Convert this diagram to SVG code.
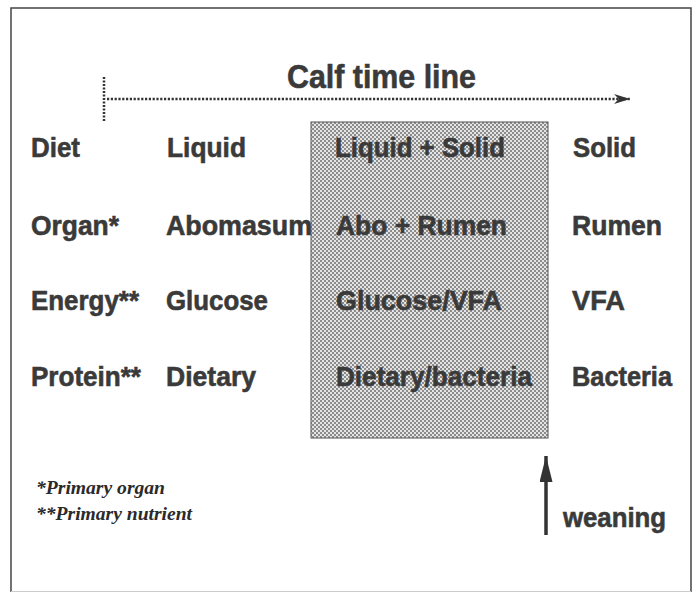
<svg xmlns="http://www.w3.org/2000/svg" width="696" height="593" viewBox="0 0 696 593">
<style>
.t{font-family:"Liberation Sans",Arial,sans-serif;font-weight:bold;font-size:28px;fill:#3a3a3a;stroke:#3a3a3a;stroke-width:0.6}
.ti{font-family:"Liberation Sans",Arial,sans-serif;font-weight:bold;font-size:34px;fill:#3a3a3a;stroke:#3a3a3a;stroke-width:0.6}
.fn{font-family:"Liberation Serif","Times New Roman",serif;font-style:italic;font-weight:bold;font-size:18px;fill:#2a2a2a}
</style>
<defs>
<pattern id="stip" width="4" height="4" patternUnits="userSpaceOnUse">
<rect width="4" height="4" fill="#e4e4e4"/>
<rect x="0" y="0" width="2" height="2" fill="#8c8c8c"/>
<rect x="2" y="2" width="2" height="2" fill="#8c8c8c"/>
</pattern>
<marker id="ah" viewBox="0 0 10 10" refX="10" refY="5" markerWidth="16" markerHeight="10" markerUnits="userSpaceOnUse" orient="auto" preserveAspectRatio="none">
<path d="M0,0 L10,5 L0,10 L3,5 Z" fill="#333"/>
</marker>
<marker id="ah2" viewBox="0 0 10 10" refX="10" refY="5" markerWidth="26" markerHeight="13" markerUnits="userSpaceOnUse" orient="auto" preserveAspectRatio="none">
<path d="M0,0 L10,5 L0,10 Z" fill="#333"/>
</marker>
</defs>
<rect width="696" height="593" fill="#fff"/>
<g id="frame" fill="none" stroke="#444">
<path d="M11,592 V8 H691 V592" stroke-width="1.5"/>
<path d="M11,591.5 H691" stroke="#ccc" stroke-width="1"/>
</g>
<g id="transition-box">
<rect x="311" y="122" width="237" height="316" fill="url(#stip)" stroke="#555" stroke-width="1"/>
</g>
<g id="connectors">
<line x1="104" y1="77" x2="104" y2="121" stroke="#333" stroke-width="2.5" stroke-dasharray="2,1.5"/>
<line x1="107" y1="99" x2="630" y2="99" stroke="#333" stroke-width="2.5" stroke-dasharray="2.2,1.6" marker-end="url(#ah)"/>
<line x1="546" y1="535" x2="546" y2="456" stroke="#333" stroke-width="3.5" marker-end="url(#ah2)"/>
</g>
<g id="title"><text class="ti" x="287" y="88" textLength="189" lengthAdjust="spacingAndGlyphs">Calf time line</text></g>
<g id="row-diet">
<text class="t" x="31" y="157" textLength="49" lengthAdjust="spacingAndGlyphs">Diet</text>
<text class="t" x="167" y="157" textLength="79" lengthAdjust="spacingAndGlyphs">Liquid</text>
<text class="t" x="335" y="157" textLength="170" lengthAdjust="spacingAndGlyphs">Liquid + Solid</text>
<text class="t" x="573" y="157" textLength="63" lengthAdjust="spacingAndGlyphs">Solid</text>
</g>
<g id="row-organ">
<text class="t" x="31" y="235" textLength="88" lengthAdjust="spacingAndGlyphs">Organ*</text>
<text class="t" x="166" y="235" textLength="146" lengthAdjust="spacingAndGlyphs">Abomasum</text>
<text class="t" x="336" y="235" textLength="171" lengthAdjust="spacingAndGlyphs">Abo + Rumen</text>
<text class="t" x="572" y="235" textLength="90" lengthAdjust="spacingAndGlyphs">Rumen</text>
</g>
<g id="row-energy">
<text class="t" x="31" y="310" textLength="108" lengthAdjust="spacingAndGlyphs">Energy**</text>
<text class="t" x="166" y="310" textLength="102" lengthAdjust="spacingAndGlyphs">Glucose</text>
<text class="t" x="336" y="310" textLength="166" lengthAdjust="spacingAndGlyphs">Glucose/VFA</text>
<text class="t" x="572" y="310" textLength="53" lengthAdjust="spacingAndGlyphs">VFA</text>
</g>
<g id="row-protein">
<text class="t" x="31" y="386" textLength="110" lengthAdjust="spacingAndGlyphs">Protein**</text>
<text class="t" x="166" y="386" textLength="90" lengthAdjust="spacingAndGlyphs">Dietary</text>
<text class="t" x="336" y="386" textLength="196" lengthAdjust="spacingAndGlyphs">Dietary/bacteria</text>
<text class="t" x="572" y="386" textLength="100" lengthAdjust="spacingAndGlyphs">Bacteria</text>
</g>
<g id="weaning"><text class="t" x="563" y="527" textLength="103" lengthAdjust="spacingAndGlyphs">weaning</text></g>
<g id="footnotes">
<text class="fn" x="36" y="494" textLength="129" lengthAdjust="spacingAndGlyphs">*Primary organ</text>
<text class="fn" x="36" y="520" textLength="156" lengthAdjust="spacingAndGlyphs">**Primary nutrient</text>
</g>
</svg>
